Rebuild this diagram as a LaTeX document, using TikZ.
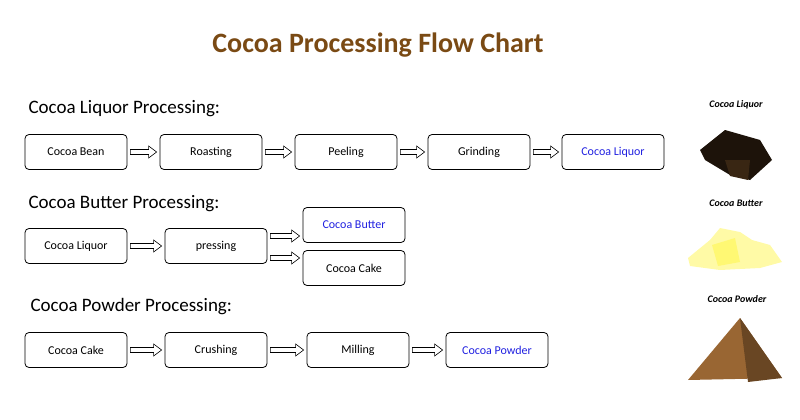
\documentclass[tikz,border=0pt]{standalone}
\usepackage{fontspec}
\setmainfont{Carlito}
\usetikzlibrary{calc}
\definecolor{titlebrown}{HTML}{7A4A14}
\definecolor{outblue}{HTML}{2020E0}
\newcommand{\flowarr}[3][0pt]{%
  \draw[semithick] let \p1=($(#2.east)+(3pt,#1)$), \p2=($(#3.west)+(-3pt,#1)$) in
    (\x1,\y1+2.5pt) -- (\x2-8pt,\y1+2.5pt) -- (\x2-8pt,\y1+6pt) -- (\x2,\y1)
    -- (\x2-8pt,\y1-6pt) -- (\x2-8pt,\y1-2.5pt) -- (\x1,\y1-2.5pt) -- cycle;}
\begin{document}
\begin{tikzpicture}[x=1pt,y=-1pt,
  proc/.style={draw,thick,rounded corners=4pt,minimum width=102pt,minimum height=35pt,font=\fontsize{12}{14}\selectfont,inner sep=0pt},
  outp/.style={proc,text=outblue},
  head/.style={anchor=west,font=\fontsize{19}{22}\selectfont},
  lab/.style={font=\fontsize{10}{12}\selectfont\bfseries\itshape}]
\useasboundingbox (0,0) rectangle (800,420);
\node[font=\fontsize{28}{32}\selectfont\bfseries,text=titlebrown] (title) at (378,45) {Cocoa Processing Flow Chart};
\node[head] (h1) at (25,109) {Cocoa Liquor Processing:};
\node[head] (h2) at (25,204) {Cocoa Butter Processing:};
\node[head] (h3) at (27,307) {Cocoa Powder Processing:};
% row 1
\node[proc] (a1) at (76,152) {Cocoa Bean};
\node[proc] (a2) at (211,152) {Roasting};
\node[proc] (a3) at (346,152) {Peeling};
\node[proc] (a4) at (479,152) {Grinding};
\node[outp] (a5) at (613,152) {Cocoa Liquor};
\flowarr{a1}{a2}\flowarr{a2}{a3}\flowarr{a3}{a4}\flowarr{a4}{a5}
% row 2
\node[proc] (b1) at (76,246) {Cocoa Liquor};
\node[proc] (b2) at (216,246) {pressing};
\node[outp] (b3) at (354,225) {Cocoa Butter};
\node[proc] (b4) at (354,268) {Cocoa Cake};
\flowarr{b1}{b2}
\coordinate (b2u) at ($(b2.east)+(0,-10)$);
\coordinate (b2d) at ($(b2.east)+(0,12)$);
\coordinate (b3u) at (b3.west |- b2u);
\coordinate (b4d) at (b4.west |- b2d);
\draw[semithick] let \p1=($(b2u)+(3pt,0)$), \p2=($(b3u)+(-3pt,0)$) in
    (\x1,\y1+2.5pt) -- (\x2-8pt,\y1+2.5pt) -- (\x2-8pt,\y1+6pt) -- (\x2,\y1)
    -- (\x2-8pt,\y1-6pt) -- (\x2-8pt,\y1-2.5pt) -- (\x1,\y1-2.5pt) -- cycle;
\draw[semithick] let \p1=($(b2d)+(3pt,0)$), \p2=($(b4d)+(-3pt,0)$) in
    (\x1,\y1+2.5pt) -- (\x2-8pt,\y1+2.5pt) -- (\x2-8pt,\y1+6pt) -- (\x2,\y1)
    -- (\x2-8pt,\y1-6pt) -- (\x2-8pt,\y1-2.5pt) -- (\x1,\y1-2.5pt) -- cycle;
% row 3
\node[proc] (c1) at (76,350) {Cocoa Cake};
\node[proc] (c2) at (216,350) {Crushing};
\node[proc] (c3) at (358,350) {Milling};
\node[outp] (c4) at (497,350) {Cocoa Powder};
\flowarr{c1}{c2}\flowarr{c2}{c3}\flowarr{c3}{c4}
% pictures
\node[lab] (l1) at (736,105) {Cocoa Liquor};
\fill[black!85!brown] (700,150) -- (725,130) -- (760,140) -- (772,160) -- (750,180) -- (730,175) -- (705,160) -- cycle;
\fill[black!70!brown] (725,160) -- (750,160) -- (748,180) -- (730,176) -- cycle;
\node[lab] (l2) at (736,203) {Cocoa Butter};
\fill[yellow!35] (688,258) -- (710,240) -- (720,228) -- (740,232) -- (752,240) -- (770,245) -- (782,262) -- (760,268) -- (720,270) -- (690,266) -- cycle;
\fill[yellow!55] (712,245) -- (735,238) -- (740,262) -- (718,266) -- cycle;
\node[lab] (l3) at (737,299) {Cocoa Powder};
\fill[brown!80!black] (688,380) -- (740,318) -- (782,378) -- cycle;
\fill[brown!55!black] (740,318) -- (782,378) -- (748,382) -- cycle;
\end{tikzpicture}
\end{document}
